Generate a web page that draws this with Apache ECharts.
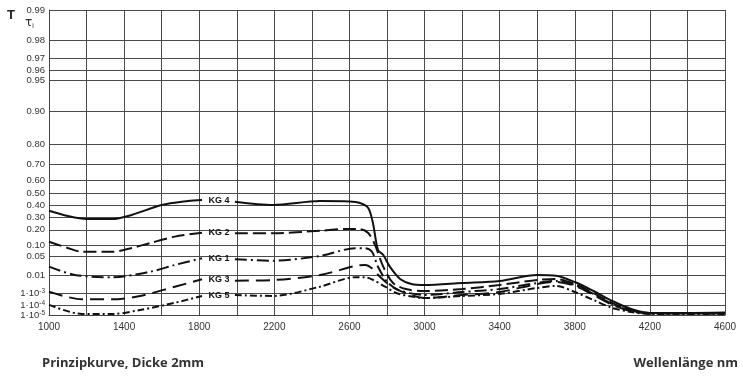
<!DOCTYPE html>
<html>
<head>
<meta charset="utf-8">
<script src="https://cdn.jsdelivr.net/npm/echarts@6/dist/echarts.min.js"></script>
<style>
  html, body { margin: 0; padding: 0; background: #fff; }
  #chart { width: 743px; height: 378px; }
</style>
</head>
<body>
<div id="chart"></div>
<script>
// transmission T per wavelength (nm); null = gap where the curve label sits
const kg4 = [[1000,0.355],[1100,0.31],[1200,0.285],[1335,0.285],[1440,0.319],[1600,0.4035],[1740,0.437],[1815,0.446],[1900,null],
  [1990,0.431],[2193,0.4035],[2443,0.437],[2600,0.433],[2656,0.42],[2700,0.378],[2725,0.253],[2752,0.077],[2780,0.0562],
  [2816,0.0226],[2870,0.0067],[2930,0.0036],[3000,0.00316],[3200,0.0041],[3400,0.00526],[3600,0.0104],[3700,0.0096],
  [3800,0.00465],[3900,0.00134],[4000,0.00024],[4100,0.000045],[4200,0.000017],[4400,0.000017],[4600,0.000019]];
const kg2 = [[1000,0.12],[1100,0.0863],[1176,0.069],[1335,0.069],[1440,0.086],[1540,0.113],[1670,0.152],[1815,0.179],[1900,null],
  [1990,0.175],[2193,0.175],[2443,0.193],[2587,0.206],[2656,0.204],[2700,0.177],[2736,0.102],[2780,0.023],[2832,0.0041],
  [2900,0.0018],[3000,0.00134],[3200,0.0018],[3400,0.00316],[3600,0.0059],[3700,0.0066],[3800,0.0036],[3900,0.00096],
  [4000,0.00016],[4100,0.000035],[4200,0.000017],[4600,0.000017]];
const kg1 = [[1000,0.023],[1138,0.0104],[1335,0.0081],[1540,0.0145],[1670,0.0266],[1815,0.0447],[1900,null],
  [1990,0.0416],[2193,0.0375],[2443,0.0525],[2630,0.085],[2683,0.085],[2720,0.069],[2752,0.023],[2800,0.0048],
  [2850,0.0018],[2920,0.00096],[3000,0.00071],[3200,0.00115],[3400,0.0018],[3600,0.0041],[3700,0.0053],[3800,0.0032],
  [3900,0.00084],[4000,0.00013],[4100,0.00003],[4200,0.000015],[4600,0.000015]];
const kg3 = [[1000,0.00121],[1176,0.00033],[1335,0.00033],[1485,0.0006],[1670,0.0025],[1815,0.0064],[1900,null],
  [1990,0.00545],[2193,0.0059],[2443,0.0104],[2630,0.0244],[2683,0.0266],[2720,0.02],[2762,0.0086],[2826,0.0025],
  [2900,0.00096],[3000,0.00042],[3200,0.00071],[3400,0.00115],[3600,0.0036],[3700,0.0047],[3800,0.0028],[3900,0.00071],
  [4000,0.00011],[4100,0.000026],[4200,0.000015],[4600,0.000015]];
const kg5 = [[1000,0.00011],[1176,0.000013],[1335,0.000013],[1485,0.000035],[1670,0.00017],[1815,0.0006],[1900,null],
  [1990,0.00071],[2193,0.0006],[2443,0.0025],[2630,0.0081],[2683,0.0081],[2720,0.0064],[2790,0.0025],[2853,0.00094],
  [2950,0.0005],[3000,0.00042],[3200,0.0006],[3400,0.00084],[3600,0.0021],[3700,0.0028],[3800,0.00115],[3900,0.00029],
  [4000,0.000056],[4100,0.000022],[4200,0.000013],[4600,0.000013]];

const labelAt = 1905; // wavelength of the in-line curve labels

const yTickValues = [0.99, 0.98, 0.97, 0.96, 0.95, 0.90, 0.80, 0.70, 0.60, 0.50, 0.40, 0.30, 0.20, 0.10, 0.05, 0.01, 1e-3, 1e-4, 1e-5];
const yTickLabels = ["0.99", "0.98", "0.97", "0.96", "0.95", "0.90", "0.80", "0.70", "0.60", "0.50", "0.40", "0.30", "0.20", "0.10", "0.05", "0.01", "1·10{s|-3}", "1·10{s|-4}", "1·10{s|-5}"];

// the diagram paper uses a ln(-ln T) scale
const tau = t => Math.log(-Math.log(t));
const yTicks = yTickValues.map(tau);
const yMin = yTicks[0] - 1e-9;
const yMax = yTicks[yTicks.length - 1] + 1e-9;

const dashes = {
  "KG 4": "solid",
  "KG 2": [13, 5],
  "KG 1": [12, 4, 2, 4],
  "KG 3": [14, 7],
  "KG 5": [7, 3, 2, 3]
};

const chartDom = document.getElementById("chart");
const myChart = echarts.init(chartDom);

function makeSeries(name, points) {
  const data = points.map(p => [p[0], p[1] == null ? "-" : tau(p[1])]);
  // label sits in the middle of the gap
  const gap = points.findIndex(p => p[1] == null);
  const yLab = (tau(points[gap - 1][1]) + tau(points[gap + 1][1])) / 2;
  return {
    name: name,
    type: "line",
    data: data,
    smooth: 0.3,
    showSymbol: false,
    connectNulls: false,
    lineStyle: { color: "#111", width: 2, type: dashes[name] },
    markPoint: {
      symbol: "circle",
      symbolSize: 0,
      silent: true,
      label: {
        show: true,
        position: "inside",
        formatter: name,
        color: "#111",
        fontSize: 9,
        fontWeight: "bold",
        fontFamily: "Liberation Sans"
      },
      data: [{ coord: [labelAt, yLab] }]
    }
  };
}

function tickLabel(v) {
  let best = 0;
  yTicks.forEach((t, i) => { if (Math.abs(t - v) < Math.abs(yTicks[best] - v)) best = i; });
  return yTickLabels[best];
}

const yLabelStyle = {
  color: "#333",
  fontSize: 9.5,
  fontFamily: "Liberation Sans",
  margin: 4,
  formatter: tickLabel,
  rich: {
    s: { fontSize: 6.5, verticalAlign: "top", color: "#333", fontFamily: "Liberation Sans", padding: [0, 0, 4, 0] }
  }
};

const option = {
  animation: false,
  grid: { left: 49, right: 18, top: 10, bottom: 63 },
  xAxis: {
    type: "value",
    min: 1000,
    max: 4600,
    interval: 200,
    axisLine: { show: true, onZero: false, lineStyle: { color: "#444", width: 1 } },
    axisTick: { show: false },
    splitLine: { show: true, lineStyle: { color: "#4a4a4a", width: 1 } },
    axisLabel: {
      color: "#333",
      fontSize: 10,
      fontFamily: "Liberation Sans",
      margin: 7,
      formatter: v => ((v - 1000) % 400 === 0 ? String(v) : "")
    }
  },
  yAxis: [
    {
      type: "value",
      inverse: true,
      min: yMin,
      max: yMax,
      axisLine: { show: true, onZero: false, lineStyle: { color: "#444", width: 1 } },
      axisTick: { show: false, customValues: yTicks },
      splitLine: { show: true, lineStyle: { color: "#4a4a4a", width: 1 } },
      axisLabel: Object.assign({ customValues: yTicks.slice(0, -1), showMinLabel: true }, yLabelStyle)
    },
    {
      // separate axis only for the bottom label, so it is not dropped as overlapping
      type: "value",
      position: "left",
      inverse: true,
      min: yMin,
      max: yMax,
      axisLine: { show: false },
      axisTick: { show: false },
      splitLine: { show: false },
      axisLabel: Object.assign({ customValues: yTicks.slice(-1), showMaxLabel: true }, yLabelStyle)
    }
  ],
  graphic: [
    { type: "text", left: 7, top: 9, style: { text: "T", fontSize: 13, fontWeight: "bold", fill: "#222", fontFamily: "Liberation Sans" } },
    { type: "text", left: 25, top: 17, style: {
        text: "{a|τ}{b|i}",
        rich: {
          a: { fontSize: 12, fill: "#333", fontFamily: "DejaVu Sans" },
          b: { fontSize: 7, fill: "#333", verticalAlign: "bottom", padding: [6, 0, 0, 0], fontFamily: "Liberation Sans" }
        }
      } },
    { type: "text", left: 42, top: 357, style: { text: "Prinzipkurve, Dicke 2mm", fontSize: 13, fontWeight: "bold", fill: "#333", fontFamily: "Open Sans" } },
    { type: "text", right: 5, top: 357, style: { text: "Wellenlänge nm", fontSize: 13, fontWeight: "bold", fill: "#333", fontFamily: "Open Sans" } }
  ],
  series: [
    makeSeries("KG 4", kg4),
    makeSeries("KG 2", kg2),
    makeSeries("KG 1", kg1),
    makeSeries("KG 3", kg3),
    makeSeries("KG 5", kg5)
  ]
};

myChart.setOption(option);
</script>
</body>
</html>
